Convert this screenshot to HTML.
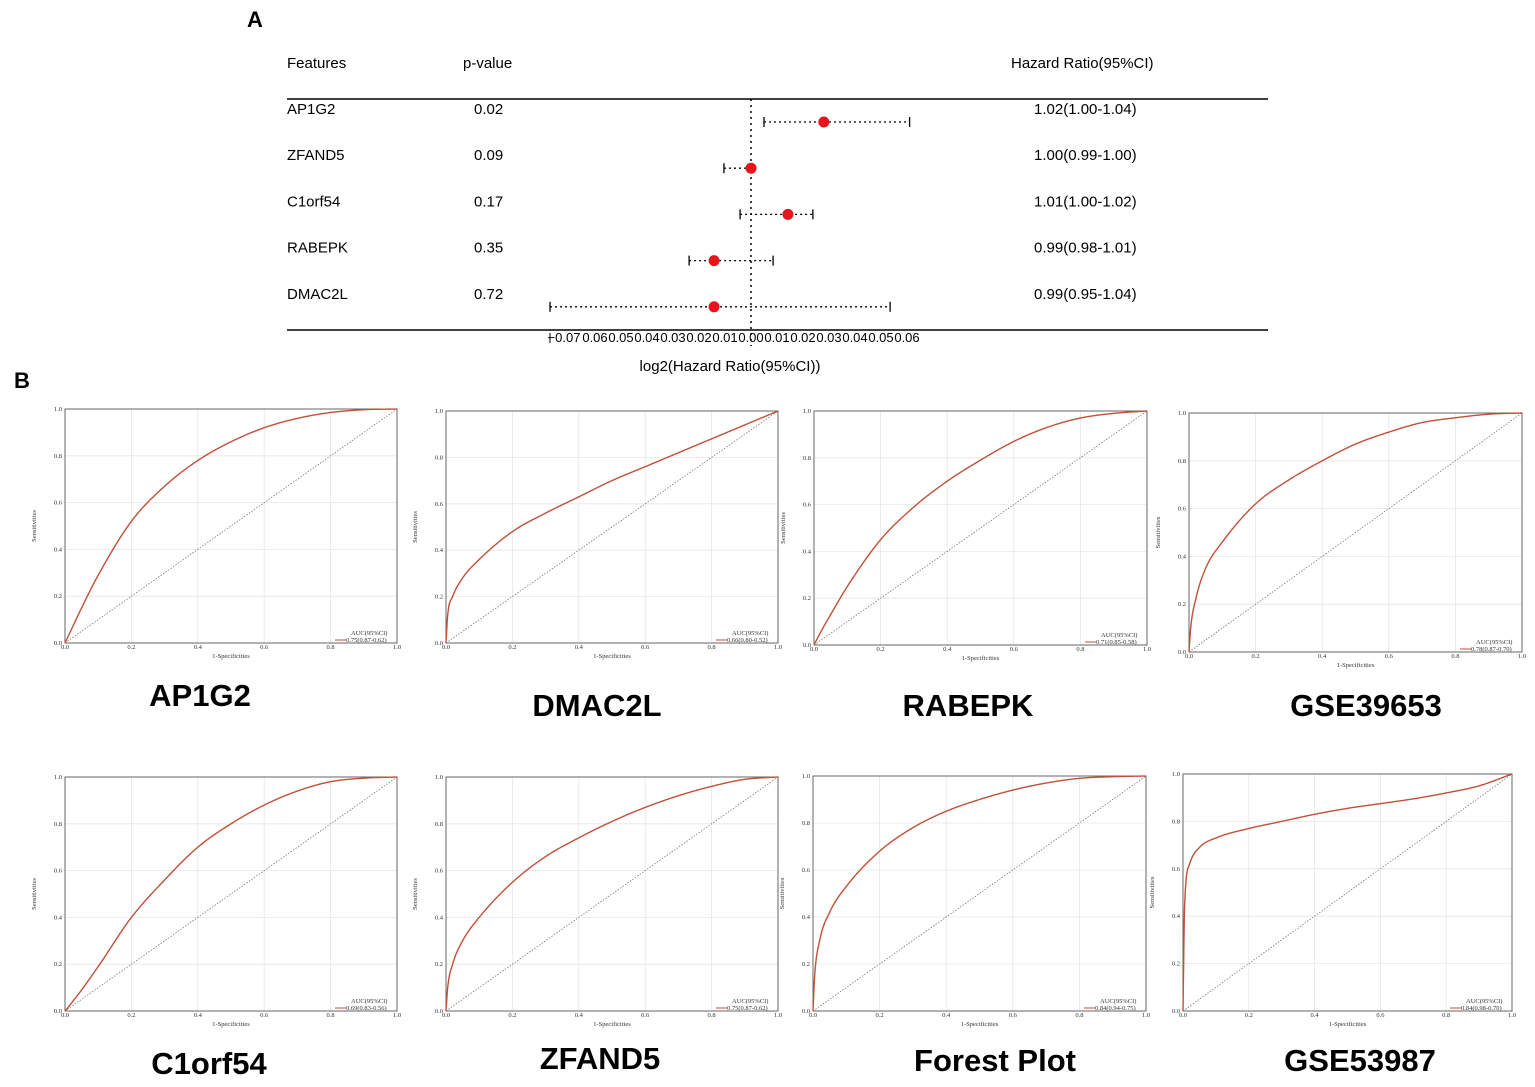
<!DOCTYPE html>
<html><head><meta charset="utf-8"><style>
body{margin:0;background:#fff;}
svg{display:block;font-family:"Liberation Sans",sans-serif;}
</style></head><body>
<svg id="fig" width="1535" height="1087" viewBox="0 0 1535 1087"></svg>
<script>
// Forest plot data (log2 HR units)
const features=["AP1G2","ZFAND5","C1orf54","RABEPK","DMAC2L"];
const pvals=["0.02","0.09","0.17","0.35","0.72"];
const hrText=["1.02(1.00-1.04)","1.00(0.99-1.00)","1.01(1.00-1.02)","0.99(0.98-1.01)","0.99(0.95-1.04)"];
const estLog=[0.028,0.0,0.0142,-0.0142,-0.0142];
const loLog=[0.005,-0.0104,-0.0042,-0.0238,-0.0773];
const hiLog=[0.061,0.0,0.0238,0.0085,0.0535];
const axisTicks=[-0.07,-0.06,-0.05,-0.04,-0.03,-0.02,-0.01,0.00,0.01,0.02,0.03,0.04,0.05,0.06];
const axisTickLabels=["\u22120.07","0.06","0.05","0.04","0.03","0.02","0.01","0.00","0.01","0.02","0.03","0.04","0.05","0.06"];
// ROC data
const fpr=[0,0.005,0.02,0.05,0.1,0.2,0.3,0.4,0.5,0.6,0.7,0.8,0.9,1];
const rocNames=["AP1G2","DMAC2L","RABEPK","GSE39653","C1orf54","ZFAND5","Forest Plot","GSE53987"];
const rocAUC=["0.75(0.87-0.62)","0.66(0.80-0.52)","0.71(0.85-0.58)","0.78(0.87-0.70)","0.69(0.83-0.56)","0.75(0.87-0.62)","0.84(0.94-0.75)","0.84(0.98-0.70)"];
const tprAP1G2=[0,.015,.06,.15,.29,.52,.67,.78,.86,.92,.96,.985,.997,1];
const tprDMAC2L=[0,.12,.20,.28,.36,.48,.56,.63,.70,.76,.82,.88,.94,1];
const tprRABEPK=[0,.014,.055,.13,.25,.45,.59,.70,.79,.87,.93,.97,.99,1];
const tprGSE39653=[0,.10,.22,.35,.46,.62,.72,.80,.87,.92,.96,.98,.995,1];
const tprC1orf54=[0,.008,.035,.09,.19,.40,.56,.70,.80,.88,.94,.98,.995,1];
const tprZFAND5=[0,.10,.20,.30,.40,.55,.66,.74,.81,.87,.92,.96,.99,1];
const tprForest=[0,.15,.30,.42,.53,.68,.78,.85,.90,.94,.97,.99,.997,1];
const tprGSE53987=[0,.45,.62,.69,.73,.77,.80,.83,.855,.875,.895,.92,.95,1];
const tprAll=[tprAP1G2,tprDMAC2L,tprRABEPK,tprGSE39653,tprC1orf54,tprZFAND5,tprForest,tprGSE53987];

const NS="http://www.w3.org/2000/svg";
const svg=document.getElementById('fig');
function mk(tag,attrs,parent,text){const e=document.createElementNS(NS,tag);for(const k in attrs)e.setAttribute(k,attrs[k]);if(text!==undefined)e.textContent=text;(parent||svg).appendChild(e);return e;}

// monotone cubic interpolation
function monotone(xs,ys){
  const n=xs.length,d=[],m=new Array(n);
  for(let i=0;i<n-1;i++)d.push((ys[i+1]-ys[i])/(xs[i+1]-xs[i]));
  m[0]=d[0];m[n-1]=d[n-2];
  for(let i=1;i<n-1;i++){m[i]=(d[i-1]*d[i]<=0)?0:(d[i-1]+d[i])/2;}
  for(let i=0;i<n-1;i++){
    if(d[i]===0){m[i]=0;m[i+1]=0;continue;}
    const a=m[i]/d[i],b=m[i+1]/d[i],s=a*a+b*b;
    if(s>9){const t=3/Math.sqrt(s);m[i]=t*a*d[i];m[i+1]=t*b*d[i];}
  }
  return function(x){
    let i=0;while(i<n-2&&x>xs[i+1])i++;
    const h=xs[i+1]-xs[i],t=(x-xs[i])/h,t2=t*t,t3=t2*t;
    return (2*t3-3*t2+1)*ys[i]+(t3-2*t2+t)*h*m[i]+(-2*t3+3*t2)*ys[i+1]+(t3-t2)*h*m[i+1];
  };
}

// Panel labels
let t=mk('text',{x:247,y:27,'font-size':22,'font-weight':'bold'},svg,'A');


t=mk('text',{x:14,y:388,'font-size':22,'font-weight':'bold'},svg,'B');



// Forest plot
const fx0=751, fscale=2600;
function fX(v){return fx0+v*fscale;}
const fg=mk('g',{});


[['Features',287,'features-header'],['p-value',463,'p-value-header'],['Hazard Ratio(95%CI)',1011,'hazard-ratio-header']].forEach(h=>{
  const e=mk('text',{x:h[1],y:68,'font-size':15},fg,h[0]);
  
  
});
let l=mk('line',{x1:287,x2:1268,y1:99,y2:99,stroke:'#000','stroke-width':1.5},fg);


l=mk('line',{x1:287,x2:1268,y1:330,y2:330,stroke:'#000','stroke-width':1.5},fg);


l=mk('line',{x1:fX(0),x2:fX(0),y1:99,y2:346,stroke:'#000','stroke-width':1.5,'stroke-dasharray':'2,4'},fg);


features.forEach((f,i)=>{
  const ty=114+i*46.2, py=122+i*46.2;
  let e=mk('text',{x:287,y:ty,'font-size':15},fg,f);
  
  
  e=mk('text',{x:474,y:ty,'font-size':15},fg,pvals[i]);
  
  
  e=mk('text',{x:1034,y:ty,'font-size':15},fg,hrText[i]);
  
  
  e=mk('line',{x1:fX(loLog[i]),x2:fX(hiLog[i]),y1:py,y2:py,stroke:'#000','stroke-width':1.3,'stroke-dasharray':'2,3'},fg);
  
  
  [loLog[i],hiLog[i]].forEach(v=>{
    const c=mk('line',{x1:fX(v),x2:fX(v),y1:py-5,y2:py+5,stroke:'#000','stroke-width':1.3},fg);
    
    
  });
  e=mk('circle',{cx:fX(estLog[i]),cy:py,r:5.5,fill:'#e8141b'},fg);
  
  
});
l=mk('line',{x1:550,x2:550,y1:333,y2:343,stroke:'#000','stroke-width':1},fg);


axisTicks.forEach((v,i)=>{
  const e=mk('text',{x:fX(v)+(i==0?-5:0),y:342,'font-size':13,'text-anchor':'middle'},fg,axisTickLabels[i]);
  
  
});
t=mk('text',{x:730,y:371,'font-size':15,'text-anchor':'middle'},fg,'log2(Hazard Ratio(95%CI))');



// ROC panels: [left,top,right,bottom,titleX,titleY]
const boxes=[[65,409,397,643,200,706],[446,411,778,643,597,716],[814,411,1147,645,968,716],[1189,413,1522,652,1366,716],
             [65,777,397,1011,209,1074],[446,777,778,1011,600,1069],[813,776,1146,1011,995,1071],[1183,774,1512,1011,1360,1071]];
const gridVals=[0,0.2,0.4,0.6,0.8,1.0];
rocNames.forEach((nm,k)=>{
  const [L,T,R,B,tx,ty]=boxes[k];
  const g=mk('g',{});
  
  
  const X=v=>L+v*(R-L), Y=v=>B-v*(B-T);
  gridVals.forEach(v=>{
    let e=mk('line',{x1:X(v),x2:X(v),y1:T,y2:B,stroke:'#e6e6e6','stroke-width':0.8},g);
    
    
    e=mk('line',{x1:L,x2:R,y1:Y(v),y2:Y(v),stroke:'#e6e6e6','stroke-width':0.8},g);
    
    
    e=mk('text',{x:L-3,y:Y(v)+2,'font-size':6.5,'text-anchor':'end','font-family':'Liberation Serif, serif',fill:'#333'},g,v.toFixed(1));
    
    
    e=mk('text',{x:X(v),y:B+6,'font-size':6.5,'text-anchor':'middle','font-family':'Liberation Serif, serif',fill:'#333'},g,v.toFixed(1));
    
    
  });
  let e=mk('rect',{x:L,y:T,width:R-L,height:B-T,fill:'none',stroke:'#666','stroke-width':1},g);
  
  
  e=mk('line',{x1:X(0),y1:Y(0),x2:X(1),y2:Y(1),stroke:'#777','stroke-width':0.8,'stroke-dasharray':'1.5,1.5'},g);
  
  
  const tpr=tprAll[k];
  const f=monotone(fpr,tpr);
  let d='M'+X(0)+','+Y(tpr[0]);
  const samples=[];
  for(let i=0;i<=40;i++)samples.push(0.005*i/40);
  for(let i=1;i<=400;i++)samples.push(0.005+0.995*i/400);
  samples.forEach(x=>{d+=' L'+X(x).toFixed(2)+','+Y(Math.min(1,Math.max(0,f(x)))).toFixed(2);});
  e=mk('path',{d:d,fill:'none',stroke:'#c0503a','stroke-width':1.4},g);
  
  
  e=mk('text',{x:(L+R)/2,y:B+15,'font-size':6.5,'text-anchor':'middle','font-family':'Liberation Serif, serif',fill:'#333'},g,'1-Specificities');
  
  
  e=mk('text',{x:L-29,y:(T+B)/2,'font-size':6.5,'text-anchor':'middle','font-family':'Liberation Serif, serif',fill:'#333',transform:'rotate(-90 '+(L-29)+' '+((T+B)/2)+')'},g,'Sensitivities');
  
  
  e=mk('text',{x:R-46,y:B-8,'font-size':6.5,'font-family':'Liberation Serif, serif',fill:'#333'},g,'AUC(95%CI)');
  
  
  e=mk('line',{x1:R-62,x2:R-51,y1:B-3,y2:B-3,stroke:'#c0503a','stroke-width':1},g);
  
  
  e=mk('text',{x:R-51,y:B-1,'font-size':6.5,'font-family':'Liberation Serif, serif',fill:'#333'},g,rocAUC[k]);
  
  
  e=mk('text',{x:tx,y:ty,'font-size':31,'font-weight':'bold','text-anchor':'middle'},g,nm);
  
  
});
</script>
</body></html>
